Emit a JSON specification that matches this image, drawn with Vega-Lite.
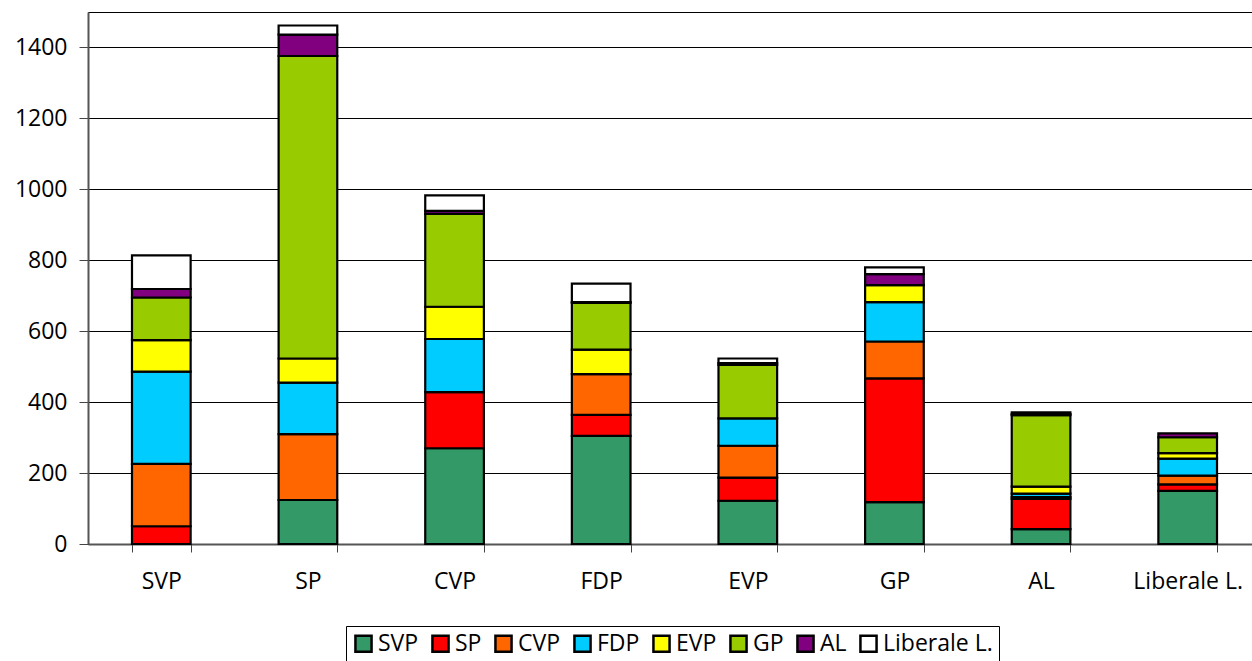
{
  "$schema": "https://vega.github.io/schema/vega-lite/v6.json",
  "autosize": {"type": "none"},
  "width": 1173,
  "height": 532,
  "padding": {"left": 88, "top": 12, "right": 0, "bottom": 117},
  "background": "white",
  "config": {
    "font": "Open Sans",
    "view": {"stroke": "black", "strokeWidth": 1}
  },
  "data": {
    "values": [
      {"group": "SVP", "party": "SP", "rank": 2, "value": 50},
      {"group": "SVP", "party": "CVP", "rank": 3, "value": 176},
      {"group": "SVP", "party": "FDP", "rank": 4, "value": 260},
      {"group": "SVP", "party": "EVP", "rank": 5, "value": 89},
      {"group": "SVP", "party": "GP", "rank": 6, "value": 120},
      {"group": "SVP", "party": "AL", "rank": 7, "value": 24},
      {"group": "SVP", "party": "Liberale L.", "rank": 8, "value": 95},

      {"group": "SP", "party": "SVP", "rank": 1, "value": 124},
      {"group": "SP", "party": "CVP", "rank": 3, "value": 186},
      {"group": "SP", "party": "FDP", "rank": 4, "value": 145},
      {"group": "SP", "party": "EVP", "rank": 5, "value": 68},
      {"group": "SP", "party": "GP", "rank": 6, "value": 853},
      {"group": "SP", "party": "AL", "rank": 7, "value": 60},
      {"group": "SP", "party": "Liberale L.", "rank": 8, "value": 26},

      {"group": "CVP", "party": "SVP", "rank": 1, "value": 270},
      {"group": "CVP", "party": "SP", "rank": 2, "value": 158},
      {"group": "CVP", "party": "FDP", "rank": 4, "value": 150},
      {"group": "CVP", "party": "EVP", "rank": 5, "value": 91},
      {"group": "CVP", "party": "GP", "rank": 6, "value": 262},
      {"group": "CVP", "party": "AL", "rank": 7, "value": 8},
      {"group": "CVP", "party": "Liberale L.", "rank": 8, "value": 44},

      {"group": "FDP", "party": "SVP", "rank": 1, "value": 305},
      {"group": "FDP", "party": "SP", "rank": 2, "value": 59},
      {"group": "FDP", "party": "CVP", "rank": 3, "value": 115},
      {"group": "FDP", "party": "EVP", "rank": 5, "value": 69},
      {"group": "FDP", "party": "GP", "rank": 6, "value": 132},
      {"group": "FDP", "party": "AL", "rank": 7, "value": 2},
      {"group": "FDP", "party": "Liberale L.", "rank": 8, "value": 52},

      {"group": "EVP", "party": "SVP", "rank": 1, "value": 122},
      {"group": "EVP", "party": "SP", "rank": 2, "value": 65},
      {"group": "EVP", "party": "CVP", "rank": 3, "value": 90},
      {"group": "EVP", "party": "FDP", "rank": 4, "value": 77},
      {"group": "EVP", "party": "GP", "rank": 6, "value": 151},
      {"group": "EVP", "party": "AL", "rank": 7, "value": 5},
      {"group": "EVP", "party": "Liberale L.", "rank": 8, "value": 13},

      {"group": "GP", "party": "SVP", "rank": 1, "value": 118},
      {"group": "GP", "party": "SP", "rank": 2, "value": 349},
      {"group": "GP", "party": "CVP", "rank": 3, "value": 104},
      {"group": "GP", "party": "FDP", "rank": 4, "value": 111},
      {"group": "GP", "party": "EVP", "rank": 5, "value": 48},
      {"group": "GP", "party": "AL", "rank": 7, "value": 31},
      {"group": "GP", "party": "Liberale L.", "rank": 8, "value": 19},

      {"group": "AL", "party": "SVP", "rank": 1, "value": 42},
      {"group": "AL", "party": "SP", "rank": 2, "value": 85},
      {"group": "AL", "party": "CVP", "rank": 3, "value": 5},
      {"group": "AL", "party": "FDP", "rank": 4, "value": 10},
      {"group": "AL", "party": "EVP", "rank": 5, "value": 20},
      {"group": "AL", "party": "GP", "rank": 6, "value": 201},
      {"group": "AL", "party": "AL", "rank": 7, "value": 3},
      {"group": "AL", "party": "Liberale L.", "rank": 8, "value": 5},

      {"group": "Liberale L.", "party": "SVP", "rank": 1, "value": 150},
      {"group": "Liberale L.", "party": "SP", "rank": 2, "value": 18},
      {"group": "Liberale L.", "party": "CVP", "rank": 3, "value": 25},
      {"group": "Liberale L.", "party": "FDP", "rank": 4, "value": 48},
      {"group": "Liberale L.", "party": "EVP", "rank": 5, "value": 15},
      {"group": "Liberale L.", "party": "GP", "rank": 6, "value": 45},
      {"group": "Liberale L.", "party": "AL", "rank": 7, "value": 11}
    ]
  },
  "mark": {"type": "bar", "stroke": "black", "strokeWidth": 2.2},
  "encoding": {
    "x": {
      "field": "group",
      "type": "nominal",
      "sort": ["SVP", "SP", "CVP", "FDP", "EVP", "GP", "AL", "Liberale L."],
      "scale": {"paddingInner": 0.6, "paddingOuter": 0.3},
      "axis": {
        "title": null,
        "labelAngle": 0,
        "labelFontSize": 23,
        "labelColor": "black",
        "labelPadding": 18,
        "tickBand": "extent",
        "tickSize": 8,
        "tickColor": "#444",
        "domainColor": "#555",
        "domainWidth": 2
      }
    },
    "y": {
      "field": "value",
      "type": "quantitative",
      "stack": "zero",
      "scale": {"domain": [0, 1500], "nice": false},
      "axis": {
        "title": null,
        "values": [0, 200, 400, 600, 800, 1000, 1200, 1400],
        "format": "d",
        "labelFontSize": 23,
        "labelColor": "black",
        "labelPadding": 12,
        "tickSize": 9,
        "tickColor": "#444",
        "domainColor": "#555",
        "domainWidth": 2,
        "gridColor": "black",
        "gridOpacity": 1,
        "gridWidth": 1
      }
    },
    "color": {
      "field": "party",
      "type": "nominal",
      "scale": {
        "domain": ["SVP", "SP", "CVP", "FDP", "EVP", "GP", "AL", "Liberale L."],
        "range": ["#339966", "#FF0000", "#FF6600", "#00CCFF", "#FFFF00", "#99CC00", "#800080", "#FFFFFF"]
      },
      "legend": {
        "title": null,
        "orient": "none",
        "direction": "horizontal",
        "legendX": 258,
        "legendY": 614,
        "strokeColor": "black",
        "padding": 6,
        "symbolType": "square",
        "symbolSize": 260,
        "symbolStrokeColor": "black",
        "symbolStrokeWidth": 2.5,
        "symbolOpacity": 1,
        "labelFontSize": 23,
        "labelColor": "black",
        "labelOffset": 3,
        "columnPadding": 8
      }
    },
    "order": {"field": "rank", "type": "quantitative", "sort": "ascending"}
  }
}
